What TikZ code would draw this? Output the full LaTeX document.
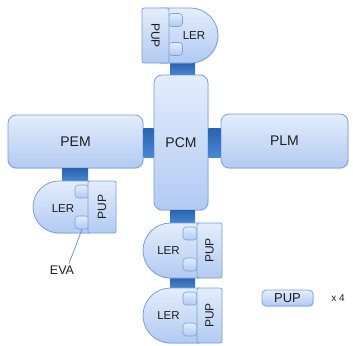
\documentclass[tikz,border=0pt]{standalone}
\usepackage{fontspec}
\setmainfont{Liberation Sans}
\usetikzlibrary{shadows}
\definecolor{modtop}{HTML}{E3EDFC}
\definecolor{modbot}{HTML}{B2CAF2}
\definecolor{modline}{HTML}{7BA0DA}
\definecolor{portA}{HTML}{2A63B2}
\definecolor{portB}{HTML}{4A86D1}
\definecolor{ink}{HTML}{1E1E1E}
\definecolor{evaline}{HTML}{5B8FD6}

\tikzset{
  softshadow/.style={drop shadow={opacity=0.18, shadow xshift=0.8pt, shadow yshift=-1.2pt}},
  module/.style={draw=modline, line width=0.8pt, top color=modtop, bottom color=modbot,
    rounded corners=8pt, softshadow, text=ink, inner sep=0pt,
    font=\fontsize{14}{16}\selectfont},
  lershape/.style={draw=modline, line width=0.8pt, top color=modtop, bottom color=modbot, softshadow},
  bump/.style={draw=modline, line width=0.6pt, top color=modtop, bottom color=modbot,
    rounded corners=3.5pt, minimum width=14pt, minimum height=13pt, inner sep=0pt},
  pup/.style={draw=modline, line width=0.8pt, top color=modtop, bottom color=modbot,
    rounded corners=2pt, inner sep=0pt, text=ink, font=\fontsize{12}{14}\selectfont},
  lertext/.style={text=ink, inner sep=0pt, font=\fontsize{11.5}{13}\selectfont},
  conn/.style={top color=portA, bottom color=portB, draw=none},
  note/.style={text=ink, inner sep=2pt},
}

\begin{document}
\begin{tikzpicture}[x=1pt, y=-1pt]
\useasboundingbox (0,0) rectangle (353,345);

% main modules
\node[module, minimum width=54pt, minimum height=135pt] (PCM) at (181,142.5) {PCM};
\node[module, minimum width=135pt, minimum height=53pt] (PEM) at (75.5,141.5) {PEM};
\node[module, minimum width=127pt, minimum height=54pt] (PLM) at (284.5,141) {PLM};

% docking ports between modules
\path[conn] ([yshift=14.5pt]PCM.west -| PEM.east) rectangle ([yshift=-14.5pt]PCM.west);
\path[conn] ([yshift=14.5pt]PCM.east) rectangle ([yshift=-14.5pt]PCM.east -| PLM.west);

% upper LER, docked on top of PCM
\coordinate (LERt-base) at (182.5,63);
\path[conn] ([xshift=-12.5pt]LERt-base) rectangle ([xshift=12.5pt]LERt-base |- PCM.north);
\path[lershape] (160,8) -- (190.5,8) arc[start angle=270, end angle=450, radius=27.5] -- (160,63) -- cycle;
\node[bump] (bumpT1) at (175.5,20) {};
\node[bump] (bumpT2) at (175.5,49) {};
\node[pup, rotate=-90, minimum width=55pt, minimum height=27pt] (PUPt) at (155.5,35.5) {PUP};
\node[lertext] (LERt) at (194,35.5) {LER};

% LER pair below PCM
\coordinate (LERm-top) at (182.5,223);
\coordinate (LERm-base) at (182.5,278);
\coordinate (LERb-top) at (182.5,288);
\path[conn] ([xshift=-12.5pt]LERm-top) rectangle ([xshift=12.5pt]LERm-top |- PCM.south);
\path[conn] ([xshift=-12.5pt]LERm-base) rectangle ([xshift=12.5pt]LERb-top);

\path[lershape] (199,223) -- (170.5,223) arc[start angle=270, end angle=90, radius=27.5] -- (199,278) -- cycle;
\node[bump] (bumpM1) at (190,233.5) {};
\node[bump] (bumpM2) at (190,264.5) {};
\node[pup, rotate=90, minimum width=55pt, minimum height=25pt] (PUPm) at (209.5,250.5) {PUP};
\node[lertext] (LERm) at (168.5,251) {LER};

\path[lershape] (199,288) -- (170.5,288) arc[start angle=270, end angle=90, radius=27.5] -- (199,343) -- cycle;
\node[bump] (bumpB1) at (190,298.5) {};
\node[bump] (bumpB2) at (190,329.5) {};
\node[pup, rotate=90, minimum width=55pt, minimum height=25pt] (PUPb) at (209.5,315.5) {PUP};
\node[lertext] (LERb) at (168.5,316) {LER};

% LER docked below PEM
\coordinate (LERl-top) at (75,181);
\path[conn] ([xshift=-13pt]LERl-top) rectangle ([xshift=13pt]LERl-top |- PEM.south);
\path[lershape] (90,181) -- (59,181) arc[start angle=270, end angle=90, radius=26] -- (90,233) -- cycle;
\node[bump] (bumpL1) at (82,191.5) {};
\node[bump] (bumpL2) at (82,222.5) {};
\node[pup, rotate=90, minimum width=52pt, minimum height=28pt] (PUPl) at (102,207) {PUP};
\node[lertext] (LERl) at (63,209) {LER};

% EVA hatch callout
\node[note, font=\fontsize{12.5}{14}\selectfont] (EVA) at (62,270) {EVA};
\draw[evaline, line width=0.7pt] (bumpL2.south) -- ([xshift=7pt]EVA.north);

% key
\node[pup, rounded corners=4pt, softshadow, minimum width=51pt, minimum height=16pt,
  font=\fontsize{13}{15}\selectfont] (PUPkey) at (287.5,298) {PUP};
\node[note, font=\fontsize{10}{12}\selectfont] (count) at (338,298) {x 4};
\end{tikzpicture}
\end{document}
